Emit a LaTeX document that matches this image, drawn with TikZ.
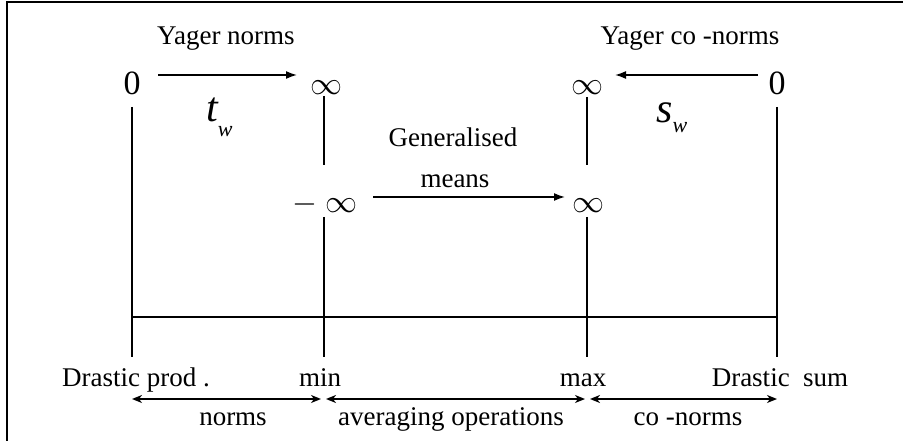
\documentclass[tikz,border=0pt]{standalone}
\usepackage{graphicx}
\usepackage{fontspec}
\setmainfont{Liberation Serif}
\usetikzlibrary{arrows.meta,calc}

\newcommand{\bigInf}{\scalebox{3.2}{$\infty$}}

\begin{document}
\begin{tikzpicture}[x=1pt,y=-1pt,
  lbl/.style={inner sep=0pt, anchor=base, font=\fontsize{27}{32}\selectfont},
  digit/.style={inner sep=0pt, anchor=base, font=\fontsize{34}{40}\selectfont},
  infsym/.style={inner sep=0pt, anchor=base},
  param/.style={inner sep=0pt, anchor=base west, font=\fontsize{42}{50}\selectfont\itshape},
  rule/.style={line width=1.6pt},
  arr/.style={line width=1.6pt, -{Latex[length=11pt,width=8pt]}},
  spanarr/.style={line width=1.6pt,
    {Stealth[length=10pt,width=8pt,inset=3pt]}-{Stealth[length=10pt,width=8pt,inset=3pt]}},
]
\useasboundingbox (0,0) rectangle (903,441);

% open frame: top and left edges only
\draw[line width=2.4pt] (7,441) -- (7,2) -- (903,2);

% headings
\node[lbl] (yn)  at (226,45) {Yager norms};
\node[lbl] (ycn) at (690,45) {Yager co -norms};

% parameter end points
\node[digit]  (z1) at (132,95) {0};
\node[infsym] (i1) at (326,95) {\bigInf};
\node[infsym] (i2) at (587,95) {\bigInf};
\node[digit]  (z2) at (777,95) {0};

\node[param] (tw) at (206,122) {t\raisebox{-15pt}{\fontsize{22}{26}\selectfont w}};
\node[param] (sw) at (656,123) {s\raisebox{-10pt}{\fontsize{22}{26}\selectfont w}};

\node[lbl] (gen)   at (453,147) {Generalised};
\node[lbl] (means) at (455,188) {means};
\node[infsym] (mi) at (325,213) {\scalebox{3.2}{$-\;\infty$}};
\node[infsym] (i3) at (588,213) {\bigInf};

% bottom labels
\node[lbl] (dp)  at (136,386) {Drastic prod .};
\node[lbl] (mn)  at (320,386) {min};
\node[lbl] (mx)  at (583,386) {max};
\node[lbl] (ds)  at (780,386) {Drastic\ \ sum};
\node[lbl] (nr)  at (233,425) {norms};
\node[lbl] (av)  at (451,425) {averaging operations};
\node[lbl] (cn)  at (688,425) {co -norms};

% bottom ends of the verticals and the base line
\coordinate (b1) at (132,357);
\coordinate (b2) at (324,357);
\coordinate (b3) at (587,357);
\coordinate (b4) at (777,357);

% verticals
\draw[rule] ($(z1.base)+(0,12)$) -- (b1);
\draw[rule] ($(i1.base)+(-2,1)$) -- (b2 |- 0,165);
\draw[rule] (b2 |- 0,217) -- (b2);
\draw[rule] ($(i2.base)+(0,2)$) -- (b3 |- 0,165);
\draw[rule] (b3 |- 0,217) -- (b3);
\draw[rule] ($(z2.base)+(0,12)$) -- (b4);

% base line
\draw[rule] ($(b1)+(0,-40)$) -- ($(b4)+(0,-40)$);

% parameter arrows
\draw[arr] ($(z1.base)+(26,-20)$) -- ($(i1.base)+(-29,-20)$);
\draw[arr] ($(z2.base)+(-19,-20)$) -- ($(i2.base)+(28,-20)$);
\draw[arr] ($(mi.base)+(48,-16)$) -- ($(i3.base)+(-23,-16)$);

% ranges
\draw[spanarr] ($(b1)+(0,42)$) -- ($(b2)+(-3,42)$);
\draw[spanarr] ($(b2)+(2,42)$) -- ($(b3)+(-2,42)$);
\draw[spanarr] ($(b3)+(3,42)$) -- ($(b4)+(0,42)$);
\end{tikzpicture}
\end{document}
